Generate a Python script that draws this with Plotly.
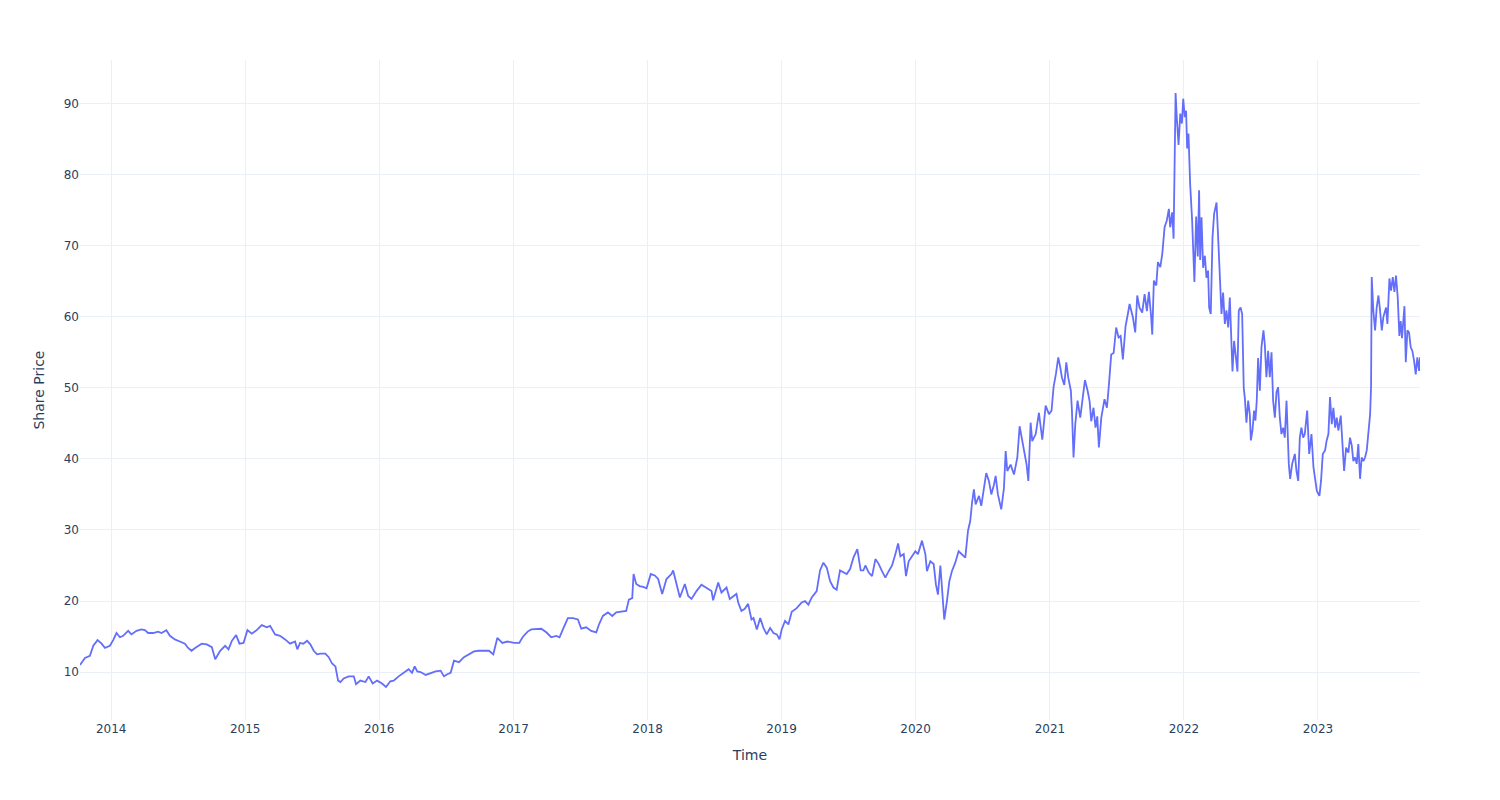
import pandas as pd
import plotly.graph_objects as go

years = [
    2013.767, 2013.804, 2013.841, 2013.866, 2013.898, 2013.928, 2013.953, 2013.990, 2014.015, 2014.040,
    2014.065, 2014.089, 2014.127, 2014.151, 2014.189, 2014.226, 2014.251, 2014.276, 2014.313, 2014.350,
    2014.375, 2014.412, 2014.438, 2014.475, 2014.512, 2014.550, 2014.574, 2014.599,
    2014.626, 2014.676, 2014.713, 2014.751, 2014.776, 2014.813, 2014.850, 2014.875, 2014.900, 2014.932,
    2014.957, 2014.987, 2015.017, 2015.049, 2015.086, 2015.124, 2015.161, 2015.186, 2015.223, 2015.260,
    2015.298, 2015.335, 2015.372, 2015.389, 2015.409, 2015.434,
    2015.462, 2015.486, 2015.511, 2015.536, 2015.561, 2015.598, 2015.623, 2015.648, 2015.673, 2015.693,
    2015.710, 2015.735, 2015.772, 2015.810, 2015.827, 2015.859, 2015.897, 2015.921, 2015.951, 2015.984,
    2016.021, 2016.051, 2016.083, 2016.108, 2016.145, 2016.182, 2016.220, 2016.245, 2016.265,
    2016.284, 2016.309, 2016.347, 2016.384, 2016.421, 2016.458, 2016.483, 2016.508, 2016.533, 2016.558,
    2016.595, 2016.632, 2016.670, 2016.707, 2016.744, 2016.781, 2016.819, 2016.851, 2016.881, 2016.918,
    2016.956, 2017.005, 2017.043, 2017.067, 2017.105,
    2017.132, 2017.169, 2017.207, 2017.244, 2017.281, 2017.318, 2017.343, 2017.368, 2017.405, 2017.443,
    2017.480, 2017.505, 2017.542, 2017.579, 2017.617, 2017.637, 2017.666, 2017.704, 2017.736, 2017.766,
    2017.803, 2017.840, 2017.860, 2017.885, 2017.895, 2017.915, 2017.940,
    2017.967, 2017.992, 2018.024, 2018.054, 2018.079, 2018.109, 2018.141, 2018.178, 2018.191, 2018.216,
    2018.241, 2018.278, 2018.303, 2018.328, 2018.365, 2018.402, 2018.439, 2018.477, 2018.489, 2018.527,
    2018.551, 2018.589, 2018.613, 2018.663, 2018.676, 2018.700, 2018.725, 2018.750, 2018.775,
    2018.790, 2018.815, 2018.840, 2018.865, 2018.889, 2018.914, 2018.939, 2018.964, 2018.984, 2019.001,
    2019.026, 2019.051, 2019.076, 2019.113, 2019.150, 2019.175, 2019.200, 2019.225, 2019.262, 2019.287,
    2019.312, 2019.337, 2019.362, 2019.387, 2019.411, 2019.436, 2019.461, 2019.486, 2019.511, 2019.536,
    2019.565, 2019.590, 2019.610,
    2019.625, 2019.650, 2019.675, 2019.700, 2019.725, 2019.749, 2019.774, 2019.799, 2019.824, 2019.849,
    2019.869, 2019.886, 2019.911, 2019.928, 2019.948, 2019.973, 2019.998, 2020.018, 2020.048, 2020.073,
    2020.085, 2020.110, 2020.135, 2020.152, 2020.167, 2020.185, 2020.197, 2020.214, 2020.234, 2020.252,
    2020.271, 2020.296, 2020.321, 2020.346, 2020.371, 2020.391, 2020.408, 2020.421,
    2020.435, 2020.448, 2020.473, 2020.490, 2020.510, 2020.527, 2020.547, 2020.565, 2020.585, 2020.597,
    2020.614, 2020.639, 2020.659, 2020.672, 2020.684, 2020.709, 2020.734, 2020.759, 2020.776, 2020.808,
    2020.828, 2020.841, 2020.858, 2020.870, 2020.896, 2020.920, 2020.945, 2020.970, 2020.995, 2021.012,
    2021.027, 2021.045, 2021.062, 2021.077, 2021.089, 2021.107, 2021.122, 2021.136, 2021.156, 2021.164,
    2021.176, 2021.189, 2021.206, 2021.226, 2021.243, 2021.261, 2021.281,
    2021.296, 2021.308, 2021.325, 2021.340, 2021.353, 2021.365, 2021.383, 2021.407, 2021.425, 2021.440,
    2021.457, 2021.475, 2021.494, 2021.512, 2021.527, 2021.544, 2021.564, 2021.581, 2021.594, 2021.619,
    2021.636, 2021.651, 2021.668, 2021.688, 2021.706, 2021.723, 2021.738, 2021.755, 2021.763, 2021.775,
    2021.793, 2021.805, 2021.823, 2021.838, 2021.855, 2021.872, 2021.887, 2021.897, 2021.912, 2021.922,
    2021.929, 2021.937, 2021.947, 2021.959, 2021.972, 2021.984, 2021.994, 2022.006, 2022.016, 2022.024,
    2022.034, 2022.046, 2022.061, 2022.071, 2022.078, 2022.091, 2022.103, 2022.113, 2022.121,
    2022.131, 2022.143, 2022.156, 2022.168, 2022.180, 2022.188, 2022.200, 2022.213, 2022.225, 2022.243,
    2022.255, 2022.267, 2022.280, 2022.292, 2022.305, 2022.317, 2022.330, 2022.342, 2022.354, 2022.362,
    2022.374, 2022.387, 2022.399, 2022.409, 2022.422, 2022.434, 2022.446, 2022.454, 2022.466, 2022.479,
    2022.491, 2022.499, 2022.511, 2022.523, 2022.533, 2022.543, 2022.553, 2022.566, 2022.578, 2022.593,
    2022.603, 2022.615, 2022.628, 2022.640, 2022.653, 2022.665, 2022.678, 2022.690, 2022.702, 2022.715,
    2022.727, 2022.740, 2022.752, 2022.765, 2022.772, 2022.782, 2022.792, 2022.807, 2022.827, 2022.839,
    2022.852, 2022.864, 2022.876, 2022.889, 2022.901, 2022.919, 2022.934, 2022.951,
    2022.966, 2022.978, 2022.991, 2023.011, 2023.023, 2023.036, 2023.053, 2023.065, 2023.078, 2023.090,
    2023.103, 2023.115, 2023.128, 2023.140, 2023.152, 2023.170, 2023.182, 2023.195, 2023.210, 2023.227,
    2023.239, 2023.252, 2023.264, 2023.277, 2023.289, 2023.301, 2023.314, 2023.326, 2023.339, 2023.351,
    2023.364, 2023.376, 2023.389, 2023.396, 2023.401, 2023.413, 2023.426, 2023.438, 2023.451, 2023.463,
    2023.476, 2023.488, 2023.508, 2023.518, 2023.533, 2023.545, 2023.558, 2023.570, 2023.582, 2023.595,
    2023.607, 2023.617, 2023.627, 2023.645, 2023.655, 2023.667, 2023.679, 2023.692, 2023.704, 2023.717,
    2023.729, 2023.741, 2023.754, 2023.761,
]

# Share price
prices = [
    11.0, 12.0, 12.3, 13.7, 14.5, 14.0, 13.4, 13.7, 14.5, 15.5,
    14.9, 15.1, 15.8, 15.3, 15.8, 16.0, 15.9, 15.5, 15.5, 15.7,
    15.5, 15.9, 15.1, 14.6, 14.3, 14.0, 13.4, 13.0,
    13.4, 14.0, 13.9, 13.5, 11.8, 13.0, 13.7, 13.2, 14.4, 15.2,
    14.0, 14.1, 15.9, 15.4, 15.9, 16.6, 16.3, 16.5, 15.3, 15.1,
    14.6, 14.0, 14.3, 13.2, 14.1, 14.0,
    14.4, 13.9, 13.0, 12.5, 12.6, 12.6, 12.1, 11.2, 10.8, 8.8,
    8.6, 9.1, 9.4, 9.4, 8.3, 8.8, 8.6, 9.4, 8.4, 8.8,
    8.4, 7.9, 8.7, 8.8, 9.4, 9.9, 10.4, 9.9, 10.8,
    10.1, 10.0, 9.6, 9.9, 10.1, 10.2, 9.4, 9.7, 9.9, 11.6,
    11.4, 12.1, 12.5, 12.9, 13.0, 13.0, 13.0, 12.5, 14.8, 14.1,
    14.3, 14.1, 14.1, 14.9, 15.7,
    16.0, 16.0, 16.1, 15.6, 14.9, 15.1, 14.9, 16.0, 17.6, 17.6,
    17.4, 16.1, 16.3, 15.8, 15.6, 16.7, 17.9, 18.4, 17.9, 18.4,
    18.5, 18.6, 20.2, 20.4, 23.8, 22.4, 22.1,
    22.0, 21.8, 23.8, 23.6, 23.1, 21.0, 23.1, 23.8, 24.3, 22.4,
    20.5, 22.4, 20.7, 20.3, 21.4, 22.3, 21.9, 21.4, 20.1, 22.6,
    21.2, 21.9, 20.3, 21.0, 19.8, 18.6, 18.9, 19.6, 17.4,
    17.6, 16.0, 17.6, 16.2, 15.3, 16.2, 15.5, 15.3, 14.6, 16.0,
    17.2, 16.7, 18.5, 19.0, 19.8, 20.0, 19.5, 20.5, 21.4, 24.3,
    25.4, 24.7, 22.8, 21.9, 21.6, 24.3, 24.0, 23.8, 24.5, 26.1,
    27.3, 24.3, 24.3,
    25.0, 24.0, 23.5, 25.9, 25.2, 24.2, 23.3, 24.2, 25.0, 26.6,
    28.1, 26.3, 26.6, 23.5, 25.6, 26.3, 27.0, 26.6, 28.5, 26.6,
    24.2, 25.6, 25.2, 22.3, 20.9, 25.0, 21.4, 17.4, 20.0, 22.8,
    24.2, 25.4, 27.0, 26.6, 26.1, 29.9, 31.3, 33.8,
    35.7, 33.6, 34.8, 33.4, 35.7, 38.0, 36.9, 35.0, 36.4, 37.6,
    35.0, 32.9, 35.9, 41.1, 38.3, 39.2, 37.8, 40.2, 44.6, 41.5,
    39.2, 36.9, 45.1, 42.5, 43.5, 46.5, 42.7, 47.5, 46.3, 46.8,
    50.1, 52.0, 54.3, 52.9, 51.5, 50.4, 53.6, 51.5, 49.6, 46.8,
    40.2, 44.9, 48.2, 45.8, 48.2, 51.1, 49.6,
    48.1, 45.3, 47.2, 44.4, 46.0, 41.6, 45.8, 48.4, 47.2, 50.5,
    54.7, 54.9, 58.5, 57.1, 57.3, 54.0, 58.7, 60.4, 61.8, 59.9,
    57.8, 63.0, 61.3, 60.6, 63.2, 60.8, 63.5, 59.9, 57.5, 65.1,
    64.4, 67.7, 67.0, 68.9, 72.6, 73.6, 75.2, 72.6, 74.7, 71.0,
    83.9, 91.5, 87.7, 84.2, 88.6, 87.2, 90.7, 88.1, 89.0, 83.7,
    85.8, 78.8, 73.6, 68.9, 64.9, 74.1, 68.5, 77.8, 68.0,
    74.0, 66.9, 68.6, 65.5, 66.5, 61.3, 60.4, 71.2, 74.5, 76.1,
    71.2, 64.6, 60.4, 63.4, 59.0, 60.9, 58.5, 62.7, 54.2, 52.3,
    56.6, 53.8, 52.3, 60.9, 61.3, 60.4, 50.0, 48.6, 45.1, 48.2,
    46.3, 42.6, 44.0, 46.8, 45.4, 48.2, 54.2, 49.6, 55.7, 58.1,
    56.1, 51.5, 55.2, 51.5, 55.0, 48.2, 45.8, 49.4, 50.1, 45.8,
    43.5, 44.4, 43.0, 48.2, 43.5, 39.3, 37.2, 39.3, 40.7, 38.3,
    36.9, 43.0, 44.4, 43.0, 43.5, 46.8, 40.7, 43.5,
    38.8, 37.4, 35.5, 34.8, 36.9, 40.7, 41.2, 42.6, 43.5, 48.7,
    44.9, 47.2, 44.4, 45.8, 44.0, 46.1, 41.6, 38.3, 41.6, 40.9,
    43.0, 41.9, 39.7, 40.2, 39.3, 42.1, 37.2, 40.2, 39.7, 40.2,
    41.2, 44.0, 46.3, 50.1, 65.6, 60.9, 58.1, 61.3, 63.0, 60.9,
    58.1, 60.0, 61.3, 59.0, 65.4, 63.7, 65.6, 63.5, 65.8, 62.7,
    57.3, 59.4, 57.0, 61.5, 53.6, 58.1, 57.8, 55.7, 55.2, 53.8,
    51.9, 54.3, 52.4, 54.3,
]


def to_date(y):
    yr = int(y)
    return pd.Timestamp(year=yr, month=1, day=1) + pd.Timedelta(days=(y - yr) * 365.25)


dates = [to_date(y) for y in years]

fig = go.Figure(
    go.Scatter(x=dates, y=prices, mode="lines", line=dict(color="#636efa", width=1.8))
)
fig.update_layout(
    template="plotly_white",
    width=1500,
    height=800,
    margin=dict(l=80, r=80, t=60, b=80),
    font=dict(family="DejaVu Sans", color="#2a3f5f"),
    xaxis_title="Time",
    yaxis_title="Share Price",
    showlegend=False,
)
fig.write_html("out.html")
